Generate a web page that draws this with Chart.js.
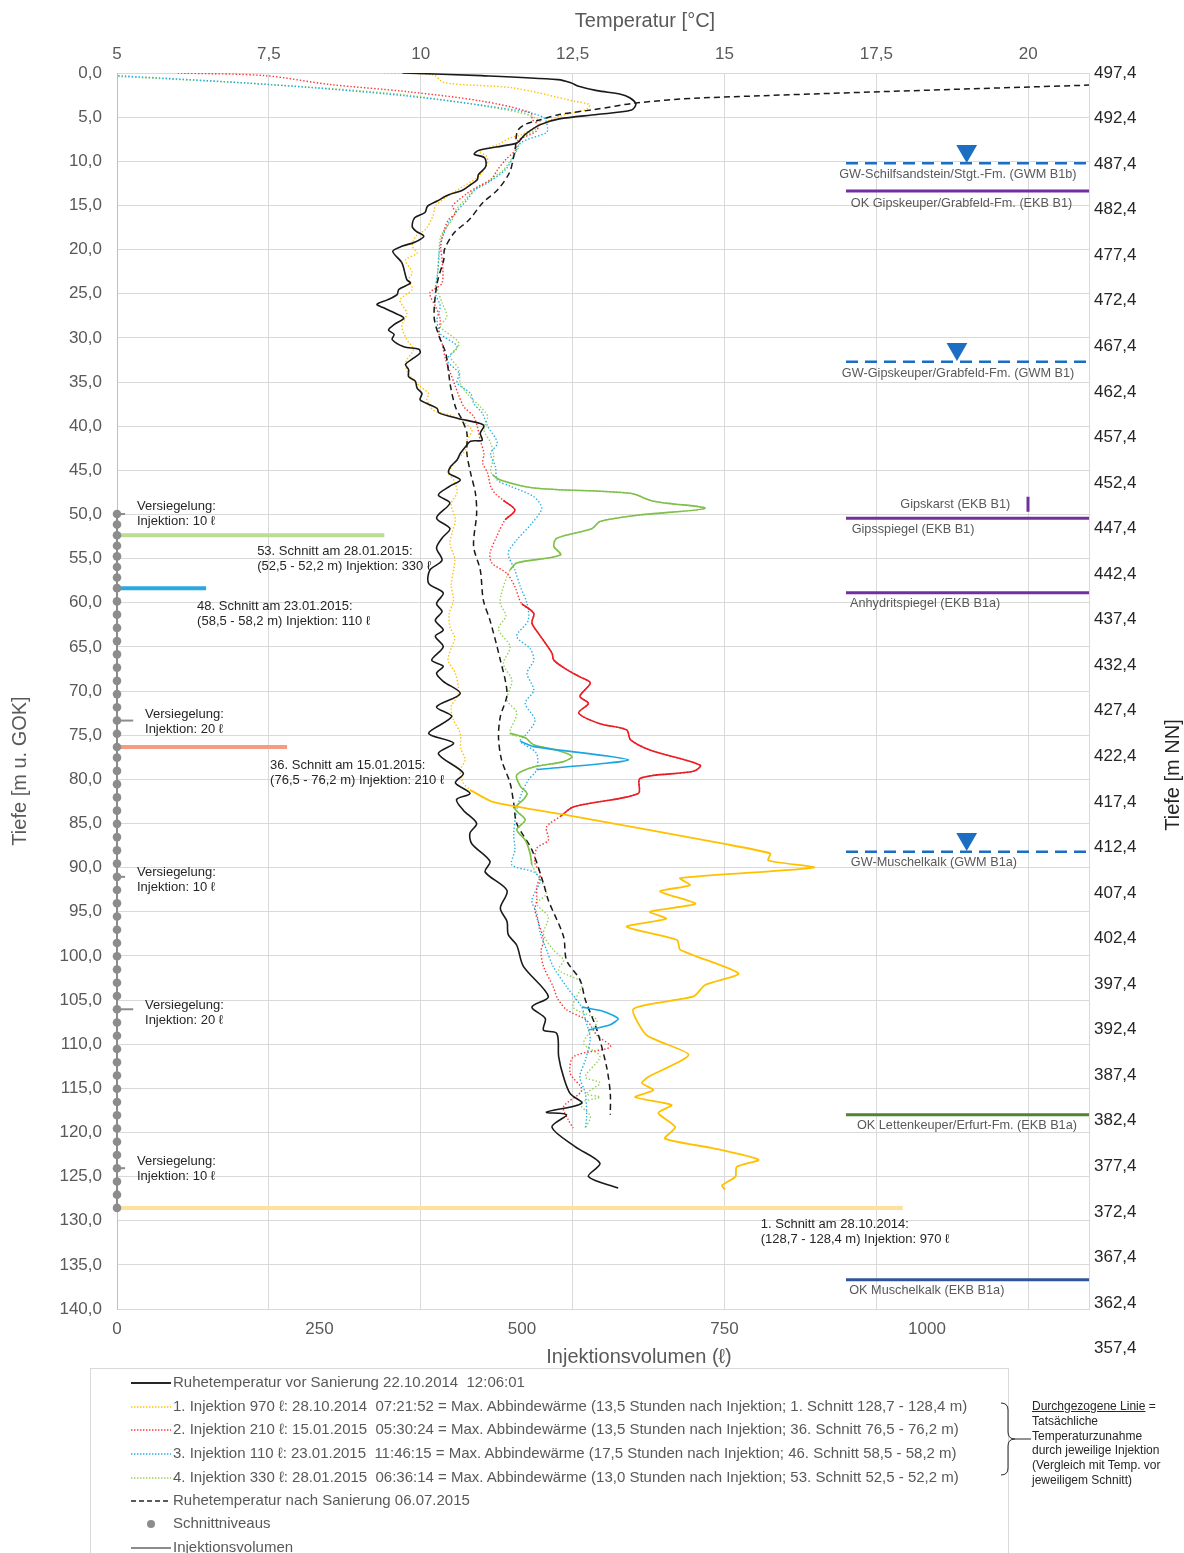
<!DOCTYPE html>
<html lang="de">
<head>
<meta charset="utf-8">
<title>Temperaturprofile Injektion</title>
<script src="https://cdn.jsdelivr.net/npm/chart.js@4.4.1/dist/chart.umd.min.js"></script>
<style>
  body { margin: 0; background: #fff; overflow: hidden; font-family: "Liberation Sans", Arial, sans-serif; }
  #wrap { position: relative; width: 1184px; height: 1553px; }
  #chartBox { position: absolute; left: 0; top: 0; width: 1184px; height: 1370px; }
  #legend { position: absolute; left: 90px; top: 1368px; width: 917px; height: 200px; border: 1px solid #d9d9d9; font-size: 15px; color: #595959; }
  .row { position: absolute; left: 40px; height: 20px; line-height: 20px; white-space: pre; }
  .row svg { vertical-align: middle; margin-right: 2px; }
  #note { position: absolute; left: 1032px; top: 1399px; font-size: 12px; line-height: 14.8px; color: #262626; }
  #bracket { position: absolute; left: 998px; top: 1401px; }
</style>
</head>
<body>
<div id="wrap">
  <div id="chartBox"><canvas id="profil" width="1184" height="1370"></canvas></div>
  <div id="legend"></div>
  <svg id="bracket" width="34" height="78">
    <path d="M3,2 Q10,2 10,9 L10,31 Q10,38 17,38 Q10,38 10,45 L10,67 Q10,74 3,74" fill="none" stroke="#262626" stroke-width="1"/>
    <line x1="17" y1="38" x2="33" y2="38" stroke="#262626" stroke-width="1"/>
  </svg>
  <div id="note"><u>Durchgezogene Linie</u> =<br>Tatsächliche<br>Temperaturzunahme<br>durch jeweilige Injektion<br>(Vergleich mit Temp. vor<br>jeweiligem Schnitt)</div>
</div>
<script>
// Achsen
const tempTicks = [5, 7.5, 10, 12.5, 15, 17.5, 20];
const depthTicks = [0, 5, 10, 15, 20, 25, 30, 35, 40, 45, 50, 55, 60, 65, 70, 75, 80, 85, 90, 95, 100, 105, 110, 115, 120, 125, 130, 135, 140];
const volumeTicks = [0, 250, 500, 750, 1000];
const nnTicks = [497.4, 492.4, 487.4, 482.4, 477.4, 472.4, 467.4, 462.4, 457.4, 452.4, 447.4, 442.4, 437.4, 432.4, 427.4, 422.4, 417.4, 412.4, 407.4, 402.4, 397.4, 392.4, 387.4, 382.4, 377.4, 372.4, 367.4, 362.4, 357.4];

// Temperaturprofile [Tiefe m, Temperatur °C]
const ruheVor = [[0,9.7],[0.3,11.0],[0.75,12.26],[1.1,12.47],[1.5,12.6],[2.0,12.9],[2.4,13.29],[2.8,13.44],[3.5,13.54],[4.2,13.47],[4.7,12.9],[5.2,12.28],[5.85,11.97],[7.0,11.71],[7.9,11.59],[8.2,11.4],[8.75,10.96],[9.2,10.88],[9.6,11.05],[10.6,11.07],[11.5,10.95],[12.1,10.93],[12.6,10.83],[13.3,10.68],[13.8,10.46],[14.5,10.27],[15.1,10.11],[15.8,10.07],[16.4,9.9],[17.4,9.86],[17.9,9.92],[18.5,10.05],[19.2,9.89],[19.6,9.7],[20.2,9.54],[21.5,9.69],[23.4,9.77],[23.8,9.83],[24.5,9.64],[25.1,9.61],[25.7,9.45],[26.2,9.28],[26.6,9.39],[27.4,9.64],[27.8,9.72],[28.5,9.56],[29.1,9.47],[29.6,9.56],[30.2,9.53],[31.0,9.72],[31.3,9.97],[31.7,9.99],[32.3,9.88],[33.0,9.75],[33.6,9.8],[34.4,9.8],[34.9,9.91],[35.7,9.94],[36.3,10.02],[37.0,9.99],[37.6,10.16],[38.0,10.27],[38.5,10.3],[39.1,10.6],[39.7,10.98],[40.0,11.04],[40.8,10.98],[41.6,11.01],[41.7,10.82],[42.3,10.74],[43.1,10.65],[43.8,10.6],[44.6,10.49],[45.3,10.46],[46.1,10.65],[46.8,10.48],[47.8,10.29],[48.7,10.48],[50.4,10.26],[51.6,10.48],[52.6,10.36],[53.8,10.26],[55.2,10.35],[56.3,10.15],[57.8,10.13],[58.9,10.37],[60.1,10.26],[61.0,10.35],[62.0,10.24],[63.1,10.37],[63.8,10.24],[65.0,10.37],[66.5,10.18],[67.2,10.37],[68.0,10.26],[68.9,10.37],[70.3,10.65],[71.8,10.26],[72.9,10.51],[74.8,10.13],[75.9,10.54],[77.1,10.29],[79.3,10.7],[80.4,10.57],[81.6,10.81],[82.3,10.59],[83.5,10.7],[85.0,10.92],[86.1,10.81],[87.3,10.84],[89.3,11.14],[90.5,11.06],[92.6,11.42],[94.6,11.31],[96.1,11.42],[97.6,11.44],[98.8,11.58],[101.2,11.69],[104.6,12.1],[105.8,11.83],[107.1,12.05],[108.4,12.02],[108.8,12.24],[111.4,12.27],[113.7,12.35],[115.6,12.46],[116.7,12.65],[117.7,12.07],[118.0,12.4],[119.4,12.16],[121.6,12.54],[123.5,12.95],[125.0,12.76],[126.3,13.25]];
const ruheNach = [[1.15,22.0],[2.83,14.6],[3.4,13.54],[4.15,12.85],[4.7,12.28],[5.3,11.97],[5.85,11.71],[6.6,11.59],[8.3,11.56],[9.8,11.52],[11.3,11.46],[13.2,11.27],[14.7,11.02],[16.6,10.8],[18.1,10.55],[20.0,10.39],[21.1,10.38],[23.8,10.27],[27.6,10.22],[29.8,10.3],[31.7,10.41],[34.0,10.46],[35.5,10.49],[37.8,10.57],[39.3,10.68],[40.8,10.76],[43.1,10.76],[45.3,10.82],[47.6,10.9],[49.9,10.92],[53.6,10.87],[56.3,10.98],[59.7,11.03],[62.0,11.14],[66.5,11.31],[70.3,11.42],[72.9,11.31],[75.2,11.28],[77.8,11.33],[80.4,11.47],[82.7,11.53],[85.0,11.58],[88.0,11.83],[91.8,12.02],[93.7,12.1],[97.8,12.35],[100.5,12.4],[102.7,12.62],[105.0,12.71],[108.4,12.9],[112.6,13.06],[115.6,13.12],[118.0,13.12]];
const injektion1 = [[0,9.4],[0.2,10.2],[1.1,10.39],[1.7,11.53],[3.2,12.53],[3.6,12.78],[4.15,12.72],[4.9,12.28],[5.85,11.97],[7.0,11.65],[7.4,11.46],[8.1,11.27],[8.9,10.96],[9.4,11.08],[10.2,11.1],[11.7,10.96],[12.3,10.83],[12.8,10.71],[14.2,10.39],[15.1,10.24],[16.2,10.2],[17.7,10.08],[18.5,9.92],[19.6,9.86],[20.4,9.94],[21.2,9.75],[22.6,9.86],[23.4,9.8],[24.5,9.86],[25.7,9.66],[27.2,9.77],[28.7,9.69],[30.2,9.77],[31.3,9.88],[32.5,9.77],[33.2,9.75],[34.4,9.83],[35.5,9.99],[36.3,10.13],[37.0,10.1],[38.2,10.21],[38.9,10.54],[40.4,10.84],[41.6,10.76],[42.7,10.74],[43.8,10.6],[45.3,10.46],[46.1,10.54],[47.5,10.6],[48.8,10.5],[50.6,10.57],[52.0,10.52],[53.3,10.48],[55.0,10.56],[56.3,10.54],[58.0,10.5],[59.7,10.54],[61.2,10.47],[62.7,10.48],[64.0,10.56],[65.0,10.51],[66.5,10.45],[68.0,10.57],[70.3,10.62],[71.8,10.5],[73.3,10.54],[74.8,10.65],[76.5,10.66],[77.8,10.73],[79.0,10.65],[80.4,10.7],[81.2,10.81]];
const injektion2 = [[0,6.0],[0.3,7.44],[1.3,8.5],[2.1,9.76],[3.2,11.02],[4.5,11.81],[5.3,11.84],[5.85,11.93],[6.6,11.9],[7.7,11.59],[8.7,11.56],[9.8,11.4],[10.9,11.27],[12.1,11.15],[12.8,10.96],[13.6,10.77],[14.3,10.64],[15.1,10.52],[15.8,10.58],[16.6,10.46],[17.7,10.39],[19.6,10.33],[21.1,10.35],[23.8,10.35],[24.9,10.15],[26.4,10.24],[27.9,10.32],[29.5,10.3],[30.6,10.35],[32.5,10.41],[34.0,10.49],[35.5,10.57],[36.6,10.63],[37.8,10.71],[38.9,10.87],[40.0,10.93],[41.6,10.98],[43.1,11.04],[44.2,11.02],[45.3,11.1],[46.8,11.15],[47.6,11.22],[48.4,11.36],[49.5,11.55],[50.6,11.39],[52.5,11.25],[54.4,11.14],[55.5,11.17],[56.7,11.42],[58.2,11.55],[60.1,11.66],[61.2,11.86],[62.3,11.83],[63.5,11.94],[65.7,12.16],[66.5,12.19],[67.6,12.41],[68.4,12.62],[69.1,12.79],[70.6,12.62],[71.4,12.76],[72.5,12.6],[73.7,12.95],[74.4,13.39],[75.5,13.45],[76.7,13.78],[78.4,14.6],[79.1,14.49],[79.9,13.61],[81.6,13.58],[83.1,12.52],[84.2,12.3],[85.4,12.07],[86.9,12.1],[87.8,11.91],[89.5,11.88],[90.7,11.97],[92.2,11.91],[93.7,11.91],[94.8,11.88],[96.5,11.95],[98.2,12.02],[99.5,11.98],[101.2,12.02],[103.5,12.18],[104.8,12.25],[106.1,12.4],[107.3,12.73],[109.0,12.9],[110.3,13.12],[111.4,12.52],[113.3,12.46],[115.2,12.65],[117.1,12.35],[118.6,12.43],[119.5,12.51]];
const injektion3 = [[0.3,5.02],[1.3,7.5],[2.6,9.76],[4.3,11.65],[5.1,12.03],[6.4,12.09],[6.8,12.06],[7.9,11.65],[9.4,11.53],[10.9,11.4],[12.5,11.09],[13.2,10.9],[14.3,10.77],[15.8,10.58],[17.0,10.46],[18.9,10.34],[20.4,10.3],[22.5,10.28],[24.9,10.24],[26.4,10.32],[27.9,10.27],[29.5,10.32],[31.0,10.6],[32.5,10.43],[34.0,10.63],[35.1,10.6],[36.3,10.82],[37.4,10.87],[38.5,11.01],[40.0,11.1],[41.9,11.26],[43.1,11.15],[44.6,11.23],[46.1,11.26],[46.8,11.47],[48.0,11.86],[49.3,11.99],[51.0,11.83],[52.9,11.58],[54.4,11.44],[56.3,11.55],[58.2,11.64],[60.1,11.75],[62.0,11.77],[63.8,11.58],[65.2,11.8],[66.5,11.86],[68.0,11.75],[69.9,11.86],[71.4,11.72],[73.3,11.88],[74.8,11.75],[75.7,11.64],[77.0,11.9],[78.9,11.91],[80.1,11.77],[81.6,11.66],[83.5,11.58],[86.1,11.53],[88.0,11.55],[89.7,11.5],[90.5,11.86],[91.4,11.97],[93.7,11.83],[95.2,11.91],[97.5,11.97],[99.3,12.07],[101.2,12.18],[103.5,12.4],[105.8,12.65],[107.0,12.7],[108.4,12.76],[109.5,12.79],[111.8,12.71],[113.7,12.62],[115.6,12.71],[118.2,12.73],[119.5,12.71]];
const injektion4 = [[0.4,5.02],[1.3,7.5],[2.5,9.76],[4.5,11.65],[5.5,11.97],[6.3,11.9],[7.5,11.65],[8.7,11.59],[9.8,11.49],[11.1,11.34],[13.4,10.86],[14.5,10.71],[15.5,10.58],[16.6,10.52],[18.5,10.33],[21.1,10.3],[24.2,10.27],[26.0,10.35],[27.6,10.43],[28.7,10.32],[30.6,10.63],[32.1,10.49],[33.6,10.63],[35.1,10.65],[36.3,10.76],[37.8,10.98],[38.9,11.1],[40.4,11.04],[41.9,11.15],[43.4,11.2],[45.0,11.15],[45.5,11.18],[46.1,11.31],[47.0,11.86],[47.6,13.45],[48.5,13.83],[49.3,14.68],[50.1,13.56],[50.8,12.95],[51.6,12.82],[52.7,12.24],[53.6,12.19],[54.6,12.3],[55.5,11.58],[56.3,11.47],[57.0,11.42],[58.9,11.33],[60.1,11.31],[61.5,11.4],[63.0,11.28],[65.0,11.47],[66.9,11.36],[68.8,11.5],[71.0,11.42],[72.5,11.58],[74.8,11.47],[75.3,11.72],[76.1,11.86],[76.7,12.24],[77.4,12.49],[78.0,12.35],[78.6,11.86],[79.5,11.58],[80.8,11.64],[81.6,11.75],[82.3,11.69],[83.3,11.55],[84.6,11.72],[85.7,11.58],[86.9,11.72],[88.4,11.8],[89.7,11.83],[90.7,11.91],[92.9,12.07],[94.1,11.91],[95.6,12.1],[97.5,12.02],[99.3,12.18],[100.5,12.35],[101.6,12.27],[103.1,12.65],[105.8,12.51],[107.3,12.9],[109.9,12.68],[111.4,12.95],[113.7,12.71],[114.4,12.95],[115.6,12.73],[116.0,12.95],[116.7,12.62],[118.2,12.79],[119.5,12.71]];

// tatsächliche Temperaturzunahme (durchgezogen)
const zunahme1 = [[81.2,10.81],[82.6,11.2],[84.2,12.52],[87.3,14.98],[88.4,15.75],[89.2,15.72],[90.0,16.47],[91.2,14.27],[92.0,14.43],[92.7,13.94],[94.1,14.52],[95.0,13.77],[95.8,14.04],[96.7,13.39],[98.2,14.22],[99.3,14.27],[102.0,15.23],[103.3,14.68],[104.6,14.49],[106.0,13.5],[109.0,13.72],[111.2,14.41],[113.7,13.75],[114.4,13.64],[115.2,13.83],[116.0,13.53],[116.9,14.13],[117.8,13.91],[119.4,14.19],[120.7,14.02],[121.8,14.82],[123.1,15.56],[123.9,15.2],[125.0,15.18],[126.0,14.96],[126.5,15.01]];
const zunahme2a = [[48.4,11.36],[49.5,11.55],[50.6,11.39]];
const zunahme2b = [[60.1,11.66],[61.2,11.86],[62.3,11.83],[63.5,11.94],[65.7,12.16],[66.5,12.19],[67.6,12.41],[68.4,12.62],[69.1,12.79],[70.6,12.62],[71.4,12.76],[72.5,12.6],[73.7,12.95],[74.4,13.39],[75.5,13.45],[76.7,13.78],[78.4,14.6],[79.1,14.49],[79.9,13.61],[81.6,13.58],[83.1,12.52],[84.2,12.3]];
const zunahme3a = [[75.7,11.64],[76.3,11.86],[77.8,13.42],[78.9,11.91]];
const zunahme3b = [[105.8,12.65],[106.3,13.01],[107.1,13.25],[107.8,13.12],[108.4,12.76]];
const zunahme4a = [[45.5,11.18],[46.1,11.31],[47.0,11.86],[47.6,13.45],[48.5,13.83],[49.3,14.68],[50.1,13.56],[50.8,12.95],[51.6,12.82],[52.7,12.24],[53.6,12.19],[54.6,12.3],[55.5,11.58],[56.3,11.47]];
const zunahme4b = [[74.8,11.47],[75.3,11.72],[76.1,11.86],[76.7,12.24],[77.4,12.49],[78.0,12.35],[78.6,11.86],[79.5,11.58],[80.8,11.64],[81.6,11.75],[82.3,11.69],[83.3,11.55],[84.6,11.72],[85.7,11.58],[86.9,11.72],[88.4,11.8],[89.7,11.83]];

// Schnittniveaus und Injektionen (Tiefe m, Volumen l)
const schnittTiefe = [49.95,51.15,52.35,53.55,54.75,55.95,57.15,58.35,59.85,61.35,62.85,64.35,65.85,67.35,68.85,70.35,71.85,73.35,74.85,76.35,77.55,79.05,80.55,82.05,83.55,85.05,86.55,88.05,89.55,91.05,92.55,94.05,95.55,97.05,98.55,100.05,101.55,103.05,104.55,106.05,107.55,109.05,110.55,112.05,113.55,115.05,116.55,118.05,119.55,121.05,122.55,124.05,125.55,127.05,128.55];
const versiegelungTiefe = [49.95, 73.35, 91.05, 106.05, 124.05];
const versiegelungVolumen = [10, 20, 10, 20, 10];
const injektionTiefe = [52.35, 58.35, 76.35, 128.55];
const injektionVolumen = [330, 110, 210, 970];

// Geologie / Grundwasser rechts
const gwTiefe = [10.23, 32.7, 88.2];
const schichtTiefe = [13.37, 50.44, 58.86, 118.0, 136.7];
const gipskarstTiefe = [48.0, 49.7];

// --- Darstellung ---
const injektionFarben = ['#b9dd94', '#2aa8e0', '#f79a82', '#fde19c'];
const schichtFarben = ['#7030a0', '#7030a0', '#7030a0', '#548235', '#2f5597'];
const gwBlau = '#1b6ec2';
const geoVon = 900, geoBis = 1200;
const gwMarker = [[1049, 8.83], [1037, 31.26], [1049, 86.76]];

const notes = [
  { lines: ['Versiegelung:', 'Injektion: 10 ℓ'], vol: 24.7, depth: 49.04 },
  { lines: ['53. Schnitt am 28.01.2015:', '(52,5 - 52,2 m) Injektion: 330 ℓ'], vol: 173, depth: 54.14 },
  { lines: ['48. Schnitt am 23.01.2015:', '(58,5 - 58,2 m) Injektion: 110 ℓ'], vol: 98.9, depth: 60.37 },
  { lines: ['Versiegelung:', 'Injektion: 20 ℓ'], vol: 34.6, depth: 72.6 },
  { lines: ['36. Schnitt am 15.01.2015:', '(76,5 - 76,2 m) Injektion: 210 ℓ'], vol: 189, depth: 78.38 },
  { lines: ['Versiegelung:', 'Injektion: 10 ℓ'], vol: 24.7, depth: 90.57 },
  { lines: ['Versiegelung:', 'Injektion: 20 ℓ'], vol: 34.6, depth: 105.56 },
  { lines: ['Versiegelung:', 'Injektion: 10 ℓ'], vol: 24.7, depth: 123.3 },
  { lines: ['1. Schnitt am 28.10.2014:', '(128,7 - 128,4 m) Injektion: 970 ℓ'], vol: 794.8, depth: 130.4 },
  { lines: ['GW-Schilfsandstein/Stgt.-Fm. (GWM B1b)'], vol: 891.6, depth: 11.48, grey: true },
  { lines: ['OK Gipskeuper/Grabfeld-Fm. (EKB B1)'], vol: 906, depth: 14.76, grey: true },
  { lines: ['GW-Gipskeuper/Grabfeld-Fm. (GWM B1)'], vol: 894.9, depth: 34.0, grey: true },
  { lines: ['Gipskarst (EKB B1)'], vol: 967, depth: 48.85, grey: true },
  { lines: ['Gipsspiegel (EKB B1)'], vol: 907, depth: 51.69, grey: true },
  { lines: ['Anhydritspiegel (EKB B1a)'], vol: 905, depth: 60.07, grey: true },
  { lines: ['GW-Muschelkalk (GWM B1a)'], vol: 906, depth: 89.4, grey: true },
  { lines: ['OK Lettenkeuper/Erfurt-Fm. (EKB B1a)'], vol: 913.5, depth: 119.27, grey: true },
  { lines: ['OK Muschelkalk (EKB B1a)'], vol: 904, depth: 137.95, grey: true }
];

const pts = arr => arr.map(([d, t]) => ({ x: t, y: d }));
const datasets = [];
function add(ds) {
  datasets.push(Object.assign({ showLine: true, pointRadius: 0, fill: false, xAxisID: 'x', yAxisID: 'y', tension: 0.3 }, ds));
}

const dotted = [1.4, 2];
add({ data: pts(injektion1), borderColor: '#ffc000', borderWidth: 1.4, borderDash: dotted, order: 60 });
add({ data: pts(injektion2), borderColor: '#ff3030', borderWidth: 1.4, borderDash: dotted, order: 61 });
add({ data: pts(injektion3), borderColor: '#21aee8', borderWidth: 1.4, borderDash: dotted, order: 62 });
add({ data: pts(injektion4), borderColor: '#92d050', borderWidth: 1.4, borderDash: dotted, order: 63 });
add({ data: pts(ruheNach), borderColor: '#1a1a1a', borderWidth: 1.5, borderDash: [6, 4], order: 50 });
add({ data: pts(ruheVor), borderColor: '#1a1a1a', borderWidth: 1.6, order: 40 });
add({ data: pts(zunahme1), borderColor: '#ffc000', borderWidth: 1.8, order: 30, tension: 0.2 });
[zunahme2a, zunahme2b].forEach(z => add({ data: pts(z), borderColor: '#ea1c24', borderWidth: 1.6, order: 31 }));
[zunahme3a, zunahme3b].forEach(z => add({ data: pts(z), borderColor: '#1ba6e2', borderWidth: 1.6, order: 32, tension: 0.2 }));
[zunahme4a, zunahme4b].forEach(z => add({ data: pts(z), borderColor: '#7fc04a', borderWidth: 1.6, order: 33 }));

// Injektionsvolumen
const volAxes = { xAxisID: 'xV', yAxisID: 'y', tension: 0, clip: false };
add(Object.assign({ data: schnittTiefe.map(d => ({ x: 0, y: d })), borderColor: '#8c8c8c', borderWidth: 2, pointRadius: 4.3, pointBackgroundColor: '#8c8c8c', pointBorderWidth: 0, order: 20 }, volAxes));
versiegelungTiefe.forEach((d, i) => add(Object.assign({ data: [{ x: 0, y: d }, { x: versiegelungVolumen[i], y: d }], borderColor: '#8c8c8c', borderWidth: 2, order: 21 }, volAxes)));
injektionTiefe.forEach((d, i) => add(Object.assign({ data: [{ x: 0, y: d }, { x: injektionVolumen[i], y: d }], borderColor: injektionFarben[i], borderWidth: 4, order: 22 }, volAxes)));

// Geologie
gwTiefe.forEach(d => add(Object.assign({}, volAxes, { clip: true, data: [{ x: geoVon, y: d }, { x: geoBis, y: d }], borderColor: gwBlau, borderWidth: 2.5, borderDash: [12, 7], order: 10 })));
schichtTiefe.forEach((d, i) => add(Object.assign({}, volAxes, { clip: true, data: [{ x: geoVon, y: d }, { x: geoBis, y: d }], borderColor: schichtFarben[i], borderWidth: 3, order: 10 })));
add(Object.assign({}, volAxes, { data: gipskarstTiefe.map(d => ({ x: 1124.7, y: d })), borderColor: '#7030a0', borderWidth: 3, order: 10 }));
add(Object.assign({}, volAxes, { showLine: false, data: gwMarker.map(([v, d]) => ({ x: v, y: d })), pointStyle: 'triangle', rotation: 180, pointRadius: 12, pointBackgroundColor: gwBlau, pointBorderColor: gwBlau, pointBorderWidth: 0, order: 5 }));

const grey = '#595959';
const tickFont = { size: 17 };
const deComma = v => String(v).replace('.', ',');

const notesPlugin = {
  id: 'notes',
  afterDatasetsDraw(chart) {
    const { ctx, scales } = chart;
    ctx.save();
    ctx.textAlign = 'left';
    ctx.textBaseline = 'middle';
    notes.forEach(n => {
      ctx.font = (n.grey ? '12.7px' : '13px') + ' "Liberation Sans", Arial, sans-serif';
      ctx.fillStyle = n.grey ? grey : '#262626';
      const x = scales.xV.getPixelForValue(n.vol);
      const y = scales.y.getPixelForValue(n.depth);
      n.lines.forEach((t, i) => ctx.fillText(t, x, y + i * 15.3));
    });
    // Achsentitel
    ctx.font = '20px "Liberation Sans", Arial, sans-serif';
    ctx.textAlign = 'center';
    ctx.fillStyle = grey;
    ctx.fillText('Temperatur [°C]', 645, 21);
    ctx.fillText('Injektionsvolumen (ℓ)', 639, 1357);
    ctx.save();
    ctx.translate(20, 771); ctx.rotate(-Math.PI / 2);
    ctx.fillText('Tiefe [m u. GOK]', 0, 0);
    ctx.restore();
    ctx.save();
    ctx.fillStyle = '#262626';
    ctx.translate(1173, 775); ctx.rotate(-Math.PI / 2);
    ctx.fillText('Tiefe [m NN]', 0, 0);
    ctx.restore();
    ctx.restore();
  }
};

Chart.defaults.font.family = '"Liberation Sans", Arial, sans-serif';

new Chart(document.getElementById('profil'), {
  type: 'scatter',
  data: { datasets },
  plugins: [notesPlugin],
  options: {
    responsive: false,
    animation: false,
    devicePixelRatio: 1,
    layout: { padding: 0 },
    plugins: { legend: { display: false }, tooltip: { enabled: false } },
    scales: {
      x: {
        position: 'top', min: 5, max: 21,
        afterBuildTicks: s => { s.ticks = tempTicks.map(v => ({ value: v })); },
        afterFit: s => { s.height = 73; },
        ticks: { font: tickFont, color: grey, padding: 8, maxRotation: 0, callback: deComma },
        grid: { color: '#d9d9d9', drawTicks: false },
        border: { display: false }
      },
      xV: {
        position: 'bottom', min: 0, max: 1200,
        afterBuildTicks: s => { s.ticks = volumeTicks.map(v => ({ value: v })); },
        afterFit: s => { s.height = 61; },
        ticks: { font: tickFont, color: grey, padding: 10, maxRotation: 0, callback: v => String(v) },
        grid: { display: false, drawTicks: false },
        border: { display: false }
      },
      y: {
        position: 'left', reverse: true, min: 0, max: 140,
        afterBuildTicks: s => { s.ticks = depthTicks.map(v => ({ value: v })); },
        afterFit: s => { s.width = 117; },
        ticks: { font: tickFont, color: grey, padding: 15, autoSkip: false, callback: v => v.toFixed(1).replace('.', ',') },
        grid: { color: '#d9d9d9', drawTicks: false },
        border: { color: '#bfbfbf' }
      },
      yR: {
        position: 'right', min: 361.74, max: 497.4,
        afterBuildTicks: s => { s.ticks = nnTicks.map(v => ({ value: v })); },
        afterFit: s => { s.width = 95; },
        ticks: { font: tickFont, color: '#262626', padding: 5, autoSkip: false, callback: v => v.toFixed(1).replace('.', ',') },
        grid: { display: false, drawTicks: false },
        border: { color: '#d9d9d9' }
      }
    }
  }
});

// Legende
const legendItems = [
  { svg: '<line x1="0" y1="3" x2="40" y2="3" stroke="#262626" stroke-width="2"/>', text: 'Ruhetemperatur vor Sanierung 22.10.2014  12:06:01' },
  { svg: '<line x1="0" y1="3" x2="40" y2="3" stroke="#ffc000" stroke-width="1.4" stroke-dasharray="1.4 1.6"/>', text: '1. Injektion 970 ℓ: 28.10.2014  07:21:52 = Max. Abbindewärme (13,5 Stunden nach Injektion; 1. Schnitt 128,7 - 128,4 m)' },
  { svg: '<line x1="0" y1="3" x2="40" y2="3" stroke="#ff3030" stroke-width="1.4" stroke-dasharray="1.4 1.6"/>', text: '2. Injektion 210 ℓ: 15.01.2015  05:30:24 = Max. Abbindewärme (13,5 Stunden nach Injektion; 36. Schnitt 76,5 - 76,2 m)' },
  { svg: '<line x1="0" y1="3" x2="40" y2="3" stroke="#21aee8" stroke-width="1.4" stroke-dasharray="1.4 1.6"/>', text: '3. Injektion 110 ℓ: 23.01.2015  11:46:15 = Max. Abbindewärme (17,5 Stunden nach Injektion; 46. Schnitt 58,5 - 58,2 m)' },
  { svg: '<line x1="0" y1="3" x2="40" y2="3" stroke="#92d050" stroke-width="1.4" stroke-dasharray="1.4 1.6"/>', text: '4. Injektion 330 ℓ: 28.01.2015  06:36:14 = Max. Abbindewärme (13,0 Stunden nach Injektion; 53. Schnitt 52,5 - 52,2 m)' },
  { svg: '<line x1="0" y1="3" x2="40" y2="3" stroke="#262626" stroke-width="1.6" stroke-dasharray="5 3"/>', text: 'Ruhetemperatur nach Sanierung 06.07.2015' },
  { svg: '<circle cx="20" cy="3" r="4" fill="#8c8c8c"/>', text: 'Schnittniveaus' },
  { svg: '<line x1="0" y1="3" x2="40" y2="3" stroke="#8c8c8c" stroke-width="2"/>', text: 'Injektionsvolumen' }
];
const legendTops = [3, 27, 50, 74, 98, 121, 144, 168];
const legend = document.getElementById('legend');
legendItems.forEach((it, i) => {
  const row = document.createElement('div');
  row.className = 'row';
  row.style.top = legendTops[i] + 'px';
  row.innerHTML = '<svg width="40" height="8" viewBox="0 0 40 6">' + it.svg + '</svg>';
  row.appendChild(document.createTextNode(it.text));
  legend.appendChild(row);
});
</script>
</body>
</html>
